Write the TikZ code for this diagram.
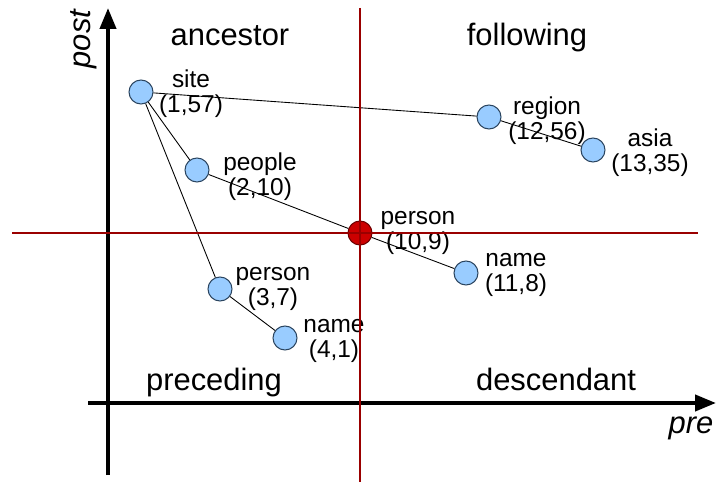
\documentclass[tikz,border=0pt]{standalone}
\usepackage{fontspec}
\setmainfont{Liberation Sans}
\usepackage{tikz}
\usetikzlibrary{arrows.meta}

\definecolor{nodeblue}{HTML}{99CCFF}
\definecolor{nodeline}{HTML}{2B4560}
\definecolor{ctxred}{HTML}{CC0000}
\definecolor{crossred}{HTML}{9A0000}

\begin{document}
\begin{tikzpicture}[
    x=0.02cm, y=-0.02cm,
    every node/.style={anchor=center},
    elem/.style={circle, draw=nodeline, line width=0.6pt, fill=nodeblue, minimum size=0.48cm, inner sep=0pt},
    ctx/.style={elem, fill=ctxred, draw=crossred!70!black},
    info/.style={align=center, font=\fontsize{13.9}{14.4}\selectfont, inner sep=0pt},
    region/.style={font=\fontsize{17.6}{20}\selectfont, anchor=base},
    axislabel/.style={font=\fontsize{17.6}{20}\selectfont\itshape},
    axis/.style={line width=2.3pt, -{Triangle[length=0.42cm,width=0.32cm]}},
    edge/.style={line width=0.5pt},
    cross/.style={crossred, line width=1.1pt}
    ]
\useasboundingbox (0,0) rectangle (716,482);

% Axes
\coordinate (pre start) at (88,403);
\coordinate (pre end) at (716,403);
\coordinate (post start) at (108,475);
\coordinate (post end) at (108,8);
\draw[axis] (pre start) -- (pre end);
\draw[axis] (post start) -- (post end);
\node[axislabel, rotate=90] (post label) at (84,39) {post};
\node[axislabel] (pre label) at (691,428) {pre};

% Regions
\node[region] (ancestor) at (230,46) {ancestor};
\node[region] (following) at (527,46) {following};
\node[region] (preceding) at (214,391) {preceding};
\node[region] (descendant) at (556,391) {descendant};

% Elements
\node[elem] (site) at (141,92) {};
\node[elem] (region) at (489,117) {};
\node[elem] (asia) at (593,150) {};
\node[elem] (people) at (197,170) {};
\node[ctx] (person) at (360,233) {};
\node[elem] (name) at (466,273) {};
\node[elem] (person2) at (220,289) {};
\node[elem] (name2) at (285,338) {};

% Edges
\draw[edge] (site) -- (region);
\draw[edge] (region) -- (asia);
\draw[edge] (site) -- (people);
\draw[edge] (people) -- (person);
\draw[edge] (person) -- (name);
\draw[edge] (site) -- (person2);
\draw[edge] (person2) -- (name2);

% Labels (pre,post)
\node[info] (site label) at (191,94) {site\\(1,57)};
\node[info] (region label) at (547,121) {region\\(12,56)};
\node[info] (asia label) at (650,153) {asia\\(13,35)};
\node[info] (people label) at (260,177) {people\\(2,10)};
\node[info] (person label) at (418,233) {person\\(10,9)};
\node[info] (name label) at (516,275) {name\\(11,8)};
\node[info] (person2 label) at (273,289) {person\\(3,7)};
\node[info] (name2 label) at (334,341) {name\\(4,1)};

% Context lines
\coordinate (cross top) at (360,8);
\coordinate (cross bottom) at (360,482);
\coordinate (cross left) at (12,233);
\coordinate (cross right) at (698,233);
\draw[cross] (cross top) -- (cross bottom);
\draw[cross] (cross left) -- (cross right);

\end{tikzpicture}
\end{document}
